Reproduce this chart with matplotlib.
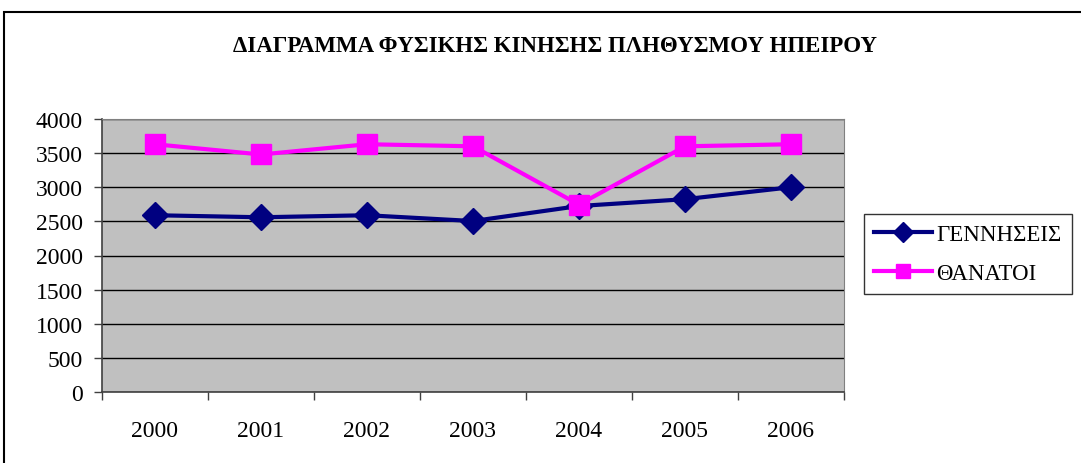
import numpy as np
from matplotlib import pyplot as plt
from matplotlib.patches import Rectangle

# Data
years = ["2000", "2001", "2002", "2003", "2004", "2005", "2006"]
births = [2590, 2560, 2590, 2505, 2725, 2825, 3000]
deaths = [3630, 3480, 3630, 3600, 2745, 3600, 3630]

TITLE = "ΔΙΑΓΡΑΜΜΑ ΦΥΣΙΚΗΣ ΚΙΝΗΣΗΣ ΠΛΗΘΥΣΜΟΥ ΗΠΕΙΡΟΥ"
LABEL_BIRTHS = "ΓΕΝΝΗΣΕΙΣ"
LABEL_DEATHS = "ΘΑΝΑΤΟΙ"

plt.rcParams["font.family"] = ["Liberation Serif", "DejaVu Serif"]

W, H = 1081, 464
fig = plt.figure(figsize=(W / 100, H / 100), dpi=100)

# outer chart frame (cut off on the right and bottom)
fig.patches.append(
    Rectangle((4 / W, -0.1), 1.2, 1.1 - 13 / H, transform=fig.transFigure,
              fill=False, edgecolor="black", linewidth=1.5)
)

ax = fig.add_axes([102 / W, 1 - 393 / H, 742 / W, 273 / H])
ax.set_facecolor("#C0C0C0")

x = np.arange(len(years))
ax.plot(x, births, color="#000080", lw=3, marker="D", ms=13,
        label=LABEL_BIRTHS, zorder=3)
ax.plot(x, deaths, color="#FF00FF", lw=3, marker="s", ms=14,
        label=LABEL_DEATHS, zorder=4)

ax.set_xlim(-0.5, len(years) - 0.5)
ax.set_ylim(0, 4000)
ax.set_yticks(np.arange(0, 4001, 500))
ax.yaxis.grid(True, color="black", lw=1)
ax.set_axisbelow(True)

# category ticks between labels, labels centered
ax.set_xticks(np.arange(-0.5, len(years), 1.0))
ax.set_xticklabels([])
ax.set_xticks(x, minor=True)
ax.set_xticklabels(years, minor=True, fontsize=17)
ax.tick_params(axis="x", which="minor", length=0, pad=20)
ax.tick_params(axis="x", which="major", length=6, width=1, color="#404040")
ax.tick_params(axis="y", length=6, width=1, labelsize=17, pad=8, color="#404040")

for side in ["top", "right"]:
    ax.spines[side].set_color("#808080")
for side in ["left", "bottom"]:
    ax.spines[side].set_color("#404040")
    ax.spines[side].set_linewidth(1.2)

fig.text(555 / W, 1 - 47 / H, TITLE, ha="center", va="center",
         fontsize=16.5, fontweight="bold")

leg = fig.legend(loc="center left", bbox_to_anchor=(864 / W, 1 - 255 / H),
                 borderaxespad=0, fontsize=16.5, frameon=True, fancybox=False,
                 edgecolor="black", handlelength=2.5, handletextpad=0.2,
                 borderpad=0.45, labelspacing=0.75, markerscale=0.75)
leg.get_frame().set_linewidth(1)

fig.savefig("out.png", dpi=100)
